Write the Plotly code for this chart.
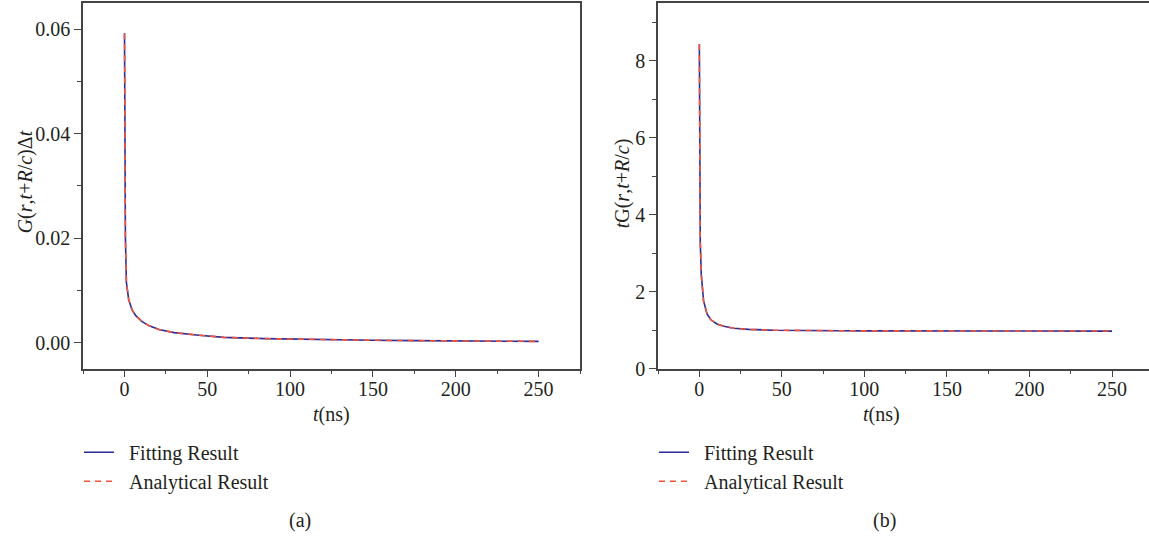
import plotly.graph_objects as go

# Data (time in ns)
t_ns = [0.05, 0.3, 0.6, 1.2, 2.6, 4.7, 7, 10.7, 15, 20.8, 30, 45, 60, 85, 100,
        125, 150, 175, 200, 225, 250]
g_dt_fit = [0.0592, 0.035, 0.020, 0.0115, 0.0082, 0.0062, 0.0051, 0.0040, 0.0032,
            0.0025, 0.0019, 0.0014, 0.0010, 0.00075, 0.00065, 0.00052, 0.00044,
            0.00037, 0.00031, 0.00026, 0.00022]
g_dt_ana = list(g_dt_fit)
tg_fit = [8.43, 5.0, 3.3, 2.45, 1.76, 1.42, 1.27, 1.16, 1.10, 1.05, 1.02, 1.0,
          0.99, 0.985, 0.983, 0.981, 0.98, 0.979, 0.978, 0.977, 0.977]
tg_ana = list(tg_fit)

W, H = 1149, 552
REF_H = 540
FONT = "Liberation Serif, Times New Roman, serif"
FS = 20
TXT = "#231f20"
AX = "#444444"
BLUE = "#2b2b99"
RED = "#f2553a"

def px(x):
    return x / W

def py(y):
    return 1 - y / REF_H

fig = go.Figure()

NB = "\u00a0\u00a0"
# Left panel
fig.add_trace(go.Scatter(x=t_ns, y=g_dt_fit, mode="lines", name=NB + "Fitting Result",
                         line=dict(color=BLUE, width=1.6), xaxis="x", yaxis="y",
                         legend="legend"))
fig.add_trace(go.Scatter(x=t_ns, y=g_dt_ana, mode="lines", name=NB + "Analytical Result",
                         line=dict(color=RED, width=1.6, dash="6px,5px"),
                         xaxis="x", yaxis="y", legend="legend"))
# Right panel
fig.add_trace(go.Scatter(x=t_ns, y=tg_fit, mode="lines", name=NB + "Fitting Result",
                         line=dict(color=BLUE, width=1.6), xaxis="x2", yaxis="y2",
                         legend="legend2"))
fig.add_trace(go.Scatter(x=t_ns, y=tg_ana, mode="lines", name=NB + "Analytical Result",
                         line=dict(color=RED, width=1.6, dash="6px,5px"),
                         xaxis="x2", yaxis="y2", legend="legend2"))

axis_common = dict(
    showgrid=False, zeroline=False, showline=True, linecolor=AX, linewidth=1.5,
    ticks="outside", ticklen=7, tickwidth=1.3, tickcolor=AX,
    tickfont=dict(family=FONT, size=FS, color=TXT),
)

y_dom = [py(368), py(3)]

fig.update_layout(
    width=W, height=H,
    margin=dict(l=0, r=0, t=0, b=0),
    paper_bgcolor="white", plot_bgcolor="white",
    font=dict(family=FONT, color=TXT, size=FS),
    xaxis=dict(domain=[px(83), px(580)], range=[-25, 275], dtick=50, tick0=0,
               mirror=True, anchor="y", ticklabelstandoff=-5,
               minor=dict(ticks="outside", dtick=25, ticklen=4, tickcolor=AX, tickwidth=1.2),
               **axis_common),
    yaxis=dict(domain=y_dom, range=[-0.005, 0.065], dtick=0.02, tick0=0,
               tickformat=".2f", mirror=True, anchor="x",
               minor=dict(ticks="outside", dtick=0.01, ticklen=4, tickcolor=AX, tickwidth=1.2),
               **axis_common),
    xaxis2=dict(domain=[px(658), 1.0], range=[-25, 272.4], dtick=50, tick0=0,
                mirror=True, anchor="y2", ticklabelstandoff=-5,
                minor=dict(ticks="outside", dtick=25, ticklen=4, tickcolor=AX, tickwidth=1.2),
                **axis_common),
    yaxis2=dict(domain=y_dom, range=[0, 9.5], dtick=2, tick0=0, anchor="x2",
                minor=dict(ticks="outside", dtick=1, ticklen=4, tickcolor=AX, tickwidth=1.2),
                **axis_common),
    legend=dict(x=px(79), y=py(432), xanchor="left", yanchor="top",
                bgcolor="rgba(0,0,0,0)", font=dict(family=FONT, size=FS, color=TXT),
                itemwidth=30, tracegroupgap=0),
    legend2=dict(x=px(654), y=py(432), xanchor="left", yanchor="top",
                 bgcolor="rgba(0,0,0,0)", font=dict(family=FONT, size=FS, color=TXT),
                 itemwidth=30, tracegroupgap=0),
    showlegend=True,
)

ann = [
    dict(x=px(331), y=py(414), text="<i>t</i>(ns)"),
    dict(x=px(882), y=py(414), text="<i>t</i>(ns)"),
    dict(x=px(25), y=py(182), text="<i>G</i>(<i>r</i>,<i>t</i>+<i>R</i>/<i>c</i>)Δ<i>t</i>",
         textangle=-90),
    dict(x=px(622), y=py(183), text="<i>t</i>G(<i>r</i>,<i>t</i>+<i>R</i>/<i>c</i>)",
         textangle=-90),
    dict(x=px(300), y=py(520), text="(a)"),
    dict(x=px(884), y=py(520), text="(b)"),
]
for a in ann:
    a.update(xref="paper", yref="paper", showarrow=False, xanchor="center",
             yanchor="middle", font=dict(family=FONT, size=FS, color=TXT))
fig.update_layout(annotations=ann)

fig.write_html("out.html", config={"displayModeBar": False},
               post_script="document.body.style.margin='0';")
